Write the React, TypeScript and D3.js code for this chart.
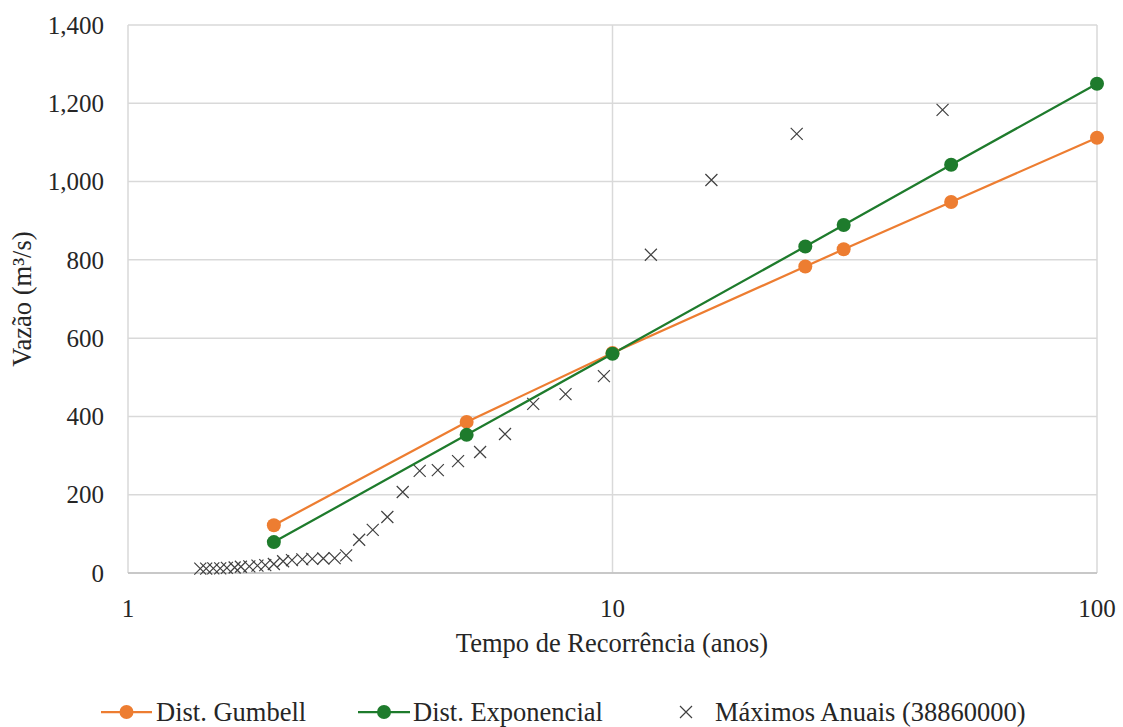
import React from "react";
import * as d3 from "d3";

const fitPeriods = [2, 5, 10, 25, 30, 50, 100];
const gumbelValues = [122, 386, 562, 783, 827, 948, 1112];
const exponentialValues = [79, 353, 560, 834, 889, 1043, 1250];

const annualPeriods = [
  48, 24, 16, 12, 9.6, 8, 6.86, 6, 5.33, 4.8, 4.36, 4, 3.69, 3.43, 3.2, 3,
  2.82, 2.67, 2.53, 2.4, 2.29, 2.18, 2.09, 2, 1.92, 1.85, 1.78, 1.71, 1.66,
  1.6, 1.55, 1.5, 1.45, 1.41,
];
const annualMaxima = [
  1183, 1122, 1004, 813, 503, 457, 432, 355, 309, 286, 263, 261, 207, 143, 110,
  85, 45, 38, 37, 36, 35, 33, 30, 23, 20, 19, 17, 16, 14, 13, 12, 12, 11, 11,
];

const yTicks = [0, 200, 400, 600, 800, 1000, 1200, 1400];
const xTicks = [1, 10, 100];

const ORANGE = "#ED7D31";
const GREEN = "#1E7B2C";
const GRID = "#D9D9D9";
const TEXT = "#262626";
const FONT = "'Liberation Serif', 'Times New Roman', serif";

export default function App() {
  const W = 1123;
  const H = 727;
  const x = d3.scaleLog().domain([1, 100]).range([128, 1097]);
  const y = d3.scaleLinear().domain([0, 1400]).range([573, 25]);
  const fmt = d3.format(",");

  const line = d3
    .line<number>()
    .x((_, i) => x(fitPeriods[i]))
    .y((d) => y(d));

  const cross = (cx: number, cy: number, s: number) =>
    `M${cx - s},${cy - s}L${cx + s},${cy + s}M${cx - s},${cy + s}L${cx + s},${cy - s}`;

  const legendY = 712;

  return (
    <svg
      width={W}
      height={H}
      style={{ position: "absolute", left: 0, top: 0, background: "#fff" }}
      fontFamily={FONT}
    >
      <rect x={0} y={0} width={W} height={H} fill="#fff" />
      {/* gridlines */}
      {yTicks.map((t) => (
        <line key={"gy" + t} x1={x(1)} x2={x(100)} y1={y(t)} y2={y(t)} stroke={GRID} strokeWidth={1.5} />
      ))}
      {xTicks.map((t) => (
        <line key={"gx" + t} x1={x(t)} x2={x(t)} y1={y(0)} y2={y(1400)} stroke={GRID} strokeWidth={1.5} />
      ))}
      <line x1={x(1)} x2={x(100)} y1={y(0)} y2={y(0)} stroke="#BFBFBF" strokeWidth={1.5} />

      {/* y tick labels */}
      {yTicks.map((t) => (
        <text key={"ly" + t} x={104} y={y(t)} dy="0.35em" textAnchor="end" fontSize={25} fill={TEXT}>
          {fmt(t)}
        </text>
      ))}
      {/* x tick labels */}
      {xTicks.map((t) => (
        <text key={"lx" + t} x={x(t)} y={608} dy="0.35em" textAnchor="middle" fontSize={25} fill={TEXT}>
          {t}
        </text>
      ))}

      {/* axis titles */}
      <text x={612} y={643} dy="0.35em" textAnchor="middle" fontSize={26.5} fill={TEXT}>
        Tempo de Recorrência (anos)
      </text>
      <text
        transform={`translate(22,${(y(0) + y(1400)) / 2}) rotate(-90)`}
        dy="0.35em"
        textAnchor="middle"
        fontSize={26.5}
        fill={TEXT}
      >
        Vazão (m³/s)
      </text>

      {/* annual maxima crosses */}
      {annualMaxima.map((v, i) => (
        <path
          key={"c" + i}
          d={cross(x(annualPeriods[i]), y(v), 6)}
          stroke="#404040"
          strokeWidth={1.2}
          fill="none"
        />
      ))}

      {/* fitted lines */}
      <path d={line(gumbelValues) || ""} fill="none" stroke={ORANGE} strokeWidth={2.25} />
      <path d={line(exponentialValues) || ""} fill="none" stroke={GREEN} strokeWidth={2.25} />
      {gumbelValues.map((v, i) => (
        <circle key={"g" + i} cx={x(fitPeriods[i])} cy={y(v)} r={7} fill={ORANGE} />
      ))}
      {exponentialValues.map((v, i) => (
        <circle key={"e" + i} cx={x(fitPeriods[i])} cy={y(v)} r={7} fill={GREEN} />
      ))}

      {/* legend */}
      <g>
        <line x1={101} x2={152} y1={legendY} y2={legendY} stroke={ORANGE} strokeWidth={2.25} />
        <circle cx={126.5} cy={legendY} r={7} fill={ORANGE} />
        <text x={156} y={legendY} dy="0.35em" fontSize={26.5} fill={TEXT}>
          Dist. Gumbell
        </text>
        <line x1={358} x2={410} y1={legendY} y2={legendY} stroke={GREEN} strokeWidth={2.25} />
        <circle cx={384} cy={legendY} r={7} fill={GREEN} />
        <text x={413} y={legendY} dy="0.35em" fontSize={26.5} fill={TEXT}>
          Dist. Exponencial
        </text>
        <path d={cross(686, legendY, 6)} stroke="#404040" strokeWidth={1.2} fill="none" />
        <text x={715} y={legendY} dy="0.35em" fontSize={26.5} fill={TEXT}>
          Máximos Anuais (38860000)
        </text>
      </g>
    </svg>
  );
}
